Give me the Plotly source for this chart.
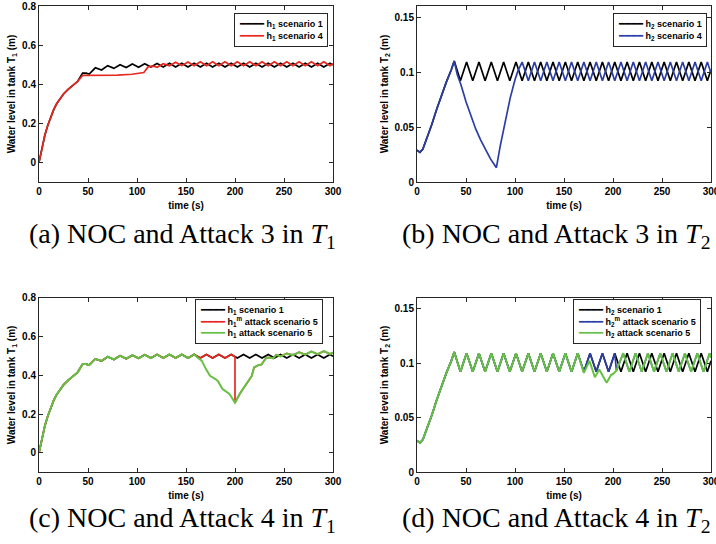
import plotly.graph_objects as go

# ---------------- data ----------------
# h1, scenario 1 (normal operation), used in (a) and (c)
t_h1_s1 = [0, 3, 6, 9, 12, 15, 18, 21, 25, 30, 35, 39.5, 44.5, 48, 51.2,
           57.5, 63.8, 70.1, 76.4, 82.7, 89.0, 95.3, 101.6, 107.9, 114.2,
           120.5, 126.8, 133.1, 139.4, 145.7, 152.0, 158.3, 164.6, 170.9, 177.2,
           183.5, 189.8, 196.1, 202.4, 208.7, 215.0, 221.3, 227.6, 233.9, 240.2,
           246.5, 252.8, 259.1, 265.4, 271.7, 278.0, 284.3, 290.6, 296.9, 300]
h1_s1 = [0, 0.075, 0.14, 0.19, 0.235, 0.27, 0.30, 0.322, 0.35, 0.375, 0.395, 0.415, 0.457, 0.457, 0.452,
         0.484, 0.473, 0.495, 0.481, 0.500, 0.485, 0.503, 0.487, 0.505, 0.488,
         0.506, 0.488, 0.507, 0.488, 0.507, 0.488, 0.507, 0.488, 0.507, 0.488,
         0.507, 0.488, 0.507, 0.488, 0.507, 0.488, 0.507, 0.488, 0.507, 0.488,
         0.507, 0.488, 0.507, 0.488, 0.507, 0.488, 0.507, 0.488, 0.507, 0.498]

# h1, scenario 4 (attack 3)
t_h1_s4 = [0, 3, 6, 9, 12, 15, 18, 21, 25, 30, 35, 39.5, 44.5, 60, 80, 95, 102, 107, 111.5, 117, 120.5,
           126.8, 133.1, 139.4, 145.7, 152.0, 158.3, 164.6, 170.9, 177.2, 183.5, 189.8, 196.1,
           202.4, 208.7, 215.0, 221.3, 227.6, 233.9, 240.2, 246.5, 252.8, 259.1, 265.4, 271.7,
           278.0, 284.3, 290.6, 296.9, 300]
h1_s4 = [0, 0.075, 0.14, 0.19, 0.235, 0.27, 0.30, 0.322, 0.35, 0.375, 0.395, 0.415, 0.445, 0.445, 0.447,
         0.451, 0.455, 0.46, 0.49, 0.492, 0.487,
         0.505, 0.494, 0.512, 0.495, 0.514, 0.495, 0.515, 0.495, 0.515, 0.495, 0.515, 0.495,
         0.515, 0.495, 0.515, 0.495, 0.515, 0.495, 0.515, 0.495, 0.515, 0.495, 0.515, 0.495,
         0.515, 0.495, 0.515, 0.495, 0.505]

# h1 actual level, attack scenario 5 (tail after it leaves scenario 1)
t_h1_atk_tail = [162, 166, 170.5, 174.5, 180, 182.5, 187, 190, 194, 196, 200, 205, 209, 213, 217,
                 219.5, 224, 227, 232, 236, 239, 242, 246.5, 252.8, 259.1, 265.4, 271.7, 278.0,
                 284.3, 290.6, 296.9, 300]
h1_atk_tail = [0.49, 0.475, 0.43, 0.397, 0.38, 0.37, 0.33, 0.318, 0.305, 0.29, 0.258, 0.305, 0.335,
               0.37, 0.395, 0.44, 0.452, 0.455, 0.49, 0.49, 0.487, 0.505, 0.497, 0.512, 0.503, 0.518,
               0.506, 0.522, 0.508, 0.524, 0.509, 0.517]
t_h1_split = 158.3      # attack starts to act on h1
t_h1m_drop = 200        # measured h1 drops to the real level
h1m_before_drop = 0.495

# h2, scenario 1 (normal operation), used in (b) and (d)
t_h2_s1 = [0, 3, 6, 10, 15, 20, 25, 30, 35, 38,
           44.3, 50.6, 56.9, 63.2, 69.5, 75.8, 82.1, 88.4, 94.7, 101.0,
           107.3, 113.6, 119.9, 126.2, 132.5, 138.8, 145.1, 151.4, 157.7, 164.0,
           170.3, 176.6, 182.9, 189.2, 195.5, 201.8, 208.1, 214.4, 220.7, 227.0,
           233.3, 239.6, 245.9, 252.2, 258.5, 264.8, 271.1, 277.4, 283.7, 290.0,
           296.3, 300]
h2_s1 = [0.029, 0.027, 0.030, 0.039, 0.052, 0.066, 0.079, 0.091, 0.102, 0.110,
         0.092, 0.109, 0.092, 0.109, 0.092, 0.109, 0.092, 0.109, 0.092, 0.109,
         0.092, 0.109, 0.092, 0.109, 0.092, 0.109, 0.092, 0.109, 0.092, 0.109,
         0.092, 0.109, 0.092, 0.109, 0.092, 0.109, 0.092, 0.109, 0.092, 0.109,
         0.092, 0.109, 0.092, 0.109, 0.092, 0.109, 0.092, 0.109, 0.092, 0.109,
         0.092, 0.102]

# h2, scenario 4 (attack 3)
t_h2_s4 = [0, 3, 6, 10, 15, 20, 25, 30, 35, 38, 41, 45, 50, 55, 60, 65, 70, 75, 78, 81,
           85, 90, 95, 100, 103,
           107.3, 113.6, 119.9, 126.2, 132.5, 138.8, 145.1, 151.4, 157.7, 164.0,
           170.3, 176.6, 182.9, 189.2, 195.5, 201.8, 208.1, 214.4, 220.7, 227.0,
           233.3, 239.6, 245.9, 252.2, 258.5, 264.8, 271.1, 277.4, 283.7, 290.0,
           296.3, 300]
h2_s4 = [0.029, 0.027, 0.030, 0.039, 0.052, 0.066, 0.079, 0.091, 0.102, 0.110, 0.098, 0.088, 0.073,
         0.060, 0.048, 0.038, 0.029, 0.021, 0.017, 0.013,
         0.033, 0.056, 0.076, 0.093, 0.101,
         0.109, 0.092, 0.109, 0.092, 0.109, 0.092, 0.109, 0.092, 0.109, 0.092,
         0.109, 0.092, 0.109, 0.092, 0.109, 0.092, 0.109, 0.092, 0.109, 0.092,
         0.109, 0.092, 0.109, 0.092, 0.109, 0.092, 0.109, 0.092, 0.109, 0.092,
         0.109, 0.099]

# h2 actual level, attack scenario 5 (tail after it leaves scenario 1)
t_h2_atk_tail = [170.3, 176, 181.5, 186, 193.5, 198, 200, 203.5,
                 210.4, 216.7, 223.0, 229.3, 235.6, 241.9, 248.2, 254.5, 260.8, 267.1,
                 273.4, 279.7, 286.0, 292.3, 298.6, 300]
h2_atk_tail = [0.091, 0.102, 0.087, 0.094, 0.082, 0.089, 0.090, 0.093,
               0.109, 0.092, 0.109, 0.092, 0.109, 0.092, 0.109, 0.092, 0.109, 0.092,
               0.109, 0.092, 0.109, 0.092, 0.109, 0.105]
t_h2_split = 164.0      # attack starts to act on h2
t_h2m_join = 201.8      # measured h2 rejoins the real level

# ---------------- derived series ----------------
n1 = sum(1 for t in t_h1_s1 if t <= t_h1_split)
t_h1_atk = t_h1_s1[:n1] + t_h1_atk_tail
h1_atk = h1_s1[:n1] + h1_atk_tail
m1 = sum(1 for t in t_h1_s1 if t < t_h1m_drop)
k1 = t_h1_atk_tail.index(t_h1m_drop)
t_h1m = t_h1_s1[:m1] + [t_h1m_drop] + t_h1_atk_tail[k1:]
h1m = h1_s1[:m1] + [h1m_before_drop] + h1_atk_tail[k1:]

n2 = sum(1 for t in t_h2_s1 if t <= t_h2_split)
t_h2_atk = t_h2_s1[:n2] + t_h2_atk_tail
h2_atk = h2_s1[:n2] + h2_atk_tail
m2 = sum(1 for t in t_h2_s1 if t <= t_h2m_join)
k2 = sum(1 for t in t_h2_atk_tail if t <= t_h2m_join)
t_h2m = t_h2_s1[:m2] + t_h2_atk_tail[k2:]
h2m = h2_s1[:m2] + h2_atk_tail[k2:]

# ---------------- styling ----------------
BLACK = "#000000"
RED = "#e8281e"
BLUE = "#2b3ea6"
GREEN = "#66c044"
AX = "#262626"
SANS = "Liberation Sans"
W, H = 716, 544

fig = go.Figure()

def add(x, y, name, color, xa, ya, width=1.7):
    fig.add_trace(go.Scatter(x=x, y=y, mode="lines", name=name, showlegend=False,
                             line=dict(color=color, width=width),
                             xaxis=xa, yaxis=ya))

add(t_h1_s1, h1_s1, "h1 scenario 1", BLACK, "x", "y")
add(t_h1_s4, h1_s4, "h1 scenario 4", RED, "x", "y")
add(t_h2_s1, h2_s1, "h2 scenario 1", BLACK, "x2", "y2")
add(t_h2_s4, h2_s4, "h2 scenario 4", BLUE, "x2", "y2")
add(t_h1_s1, h1_s1, "h1 scenario 1", BLACK, "x3", "y3")
add(t_h1m, h1m, "h1m attack scenario 5", RED, "x3", "y3")
add(t_h1_atk, h1_atk, "h1 attack scenario 5", GREEN, "x3", "y3", width=2)
add(t_h2_s1, h2_s1, "h2 scenario 1", BLACK, "x4", "y4")
add(t_h2m, h2m, "h2m attack scenario 5", BLUE, "x4", "y4")
add(t_h2_atk, h2_atk, "h2 attack scenario 5", GREEN, "x4", "y4", width=2)

def px(v):
    return v / W

def py(v):
    return 1 - v / H

tickfont = dict(family=SANS, size=10, color="black", weight="bold")
common = dict(showline=True, linecolor=AX, linewidth=1, mirror="ticks",
              ticks="inside", ticklen=4, tickcolor=AX, showgrid=False,
              zeroline=False, tickfont=tickfont, automargin=False,
              ticklabeloverflow="allow")

xt = [0, 50, 100, 150, 200, 250, 300]
xcommon = dict(range=[0, 300], tickvals=xt, ticktext=[str(v) for v in xt],
               title=dict(text="time (s)", font=tickfont, standoff=5), **common)

y1t = [0, 0.2, 0.4, 0.6, 0.8]
y1l = ["0", "0.2", "0.4", "0.6", "0.8"]
y2t = [0, 0.05, 0.1, 0.15]
y2l = ["0", "0.05", "0.1", "0.15"]

colL = [px(39), px(333)]
colR = [px(417), px(711)]
rowT = [py(182), py(6)]
rowB = [py(472.3), py(297.5)]

def ytitle(n):
    return dict(text="Water level in tank T<sub>%d</sub> (m)" % n, font=tickfont, standoff=4)

fig.update_layout(
    width=W, height=H, margin=dict(l=0, r=0, t=0, b=0, autoexpand=False),
    paper_bgcolor="white", plot_bgcolor="white", showlegend=False,
    xaxis=dict(domain=colL, anchor="y", **xcommon),
    xaxis2=dict(domain=colR, anchor="y2", **xcommon),
    xaxis3=dict(domain=colL, anchor="y3", **xcommon),
    xaxis4=dict(domain=colR, anchor="y4", **xcommon),
    yaxis=dict(domain=rowT, anchor="x", range=[-0.1, 0.8], tickvals=y1t, ticktext=y1l,
               title=ytitle(1), **common),
    yaxis2=dict(domain=rowT, anchor="x2", range=[0, 0.16], tickvals=y2t, ticktext=y2l,
                title=ytitle(2), **common),
    yaxis3=dict(domain=rowB, anchor="x3", range=[-0.1, 0.8], tickvals=y1t, ticktext=y1l,
                title=ytitle(1), **common),
    yaxis4=dict(domain=rowB, anchor="x4", range=[0, 0.16], tickvals=y2t, ticktext=y2l,
                title=ytitle(2), **common),
)

# legends (boxed, MATLAB style)
SAMPLE = "\u2501\u2501\u2501\u2501"
def entry(color, label):
    return ('<span style="color:%s;font-family:DejaVu Sans;font-size:10px">%s</span> %s'
            % (color, SAMPLE, label))

legends = [
    ([(BLACK, "h<sub>1</sub> scenario 1"), (RED, "h<sub>1</sub> scenario 4")], 234, 13),
    ([(BLACK, "h<sub>2</sub> scenario 1"), (BLUE, "h<sub>2</sub> scenario 4")], 613, 13),
    ([(BLACK, "h<sub>1</sub> scenario 1"), (RED, "h<sub>1</sub><sup>m</sup> attack scenario 5"),
      (GREEN, "h<sub>1</sub> attack scenario 5")], 195, 299),
    ([(BLACK, "h<sub>2</sub> scenario 1"), (BLUE, "h<sub>2</sub><sup>m</sup> attack scenario 5"),
      (GREEN, "h<sub>2</sub> attack scenario 5")], 573, 299),
]
legfont = dict(family=SANS, size=9, color="black", weight="bold")
for items, lx, ly in legends:
    text = "<br>".join(entry(c, l) for c, l in items)
    fig.add_annotation(text=text, x=px(lx), y=py(ly), xref="paper", yref="paper",
                       xanchor="left", yanchor="top", align="left", showarrow=False,
                       font=legfont, bgcolor="white", bordercolor=AX, borderwidth=1,
                       borderpad=4)

capfont = dict(family="Liberation Serif", size=28, color="black")
captions = [
    ("(a) NOC and Attack 3 in <i>T</i><sub>1</sub>", 182, 235),
    ("(b) NOC and Attack 3 in <i>T</i><sub>2</sub>", 556, 235),
    ("(c) NOC and Attack 4 in <i>T</i><sub>1</sub>", 182, 519),
    ("(d) NOC and Attack 4 in <i>T</i><sub>2</sub>", 556, 519),
]
for text, cx, cy in captions:
    fig.add_annotation(text=text, x=px(cx), y=py(cy), xref="paper", yref="paper",
                       xanchor="center", yanchor="middle", showarrow=False, font=capfont)

fig.write_html("out.html", config={"displayModeBar": False},
               post_script="document.body.style.margin='0';")
